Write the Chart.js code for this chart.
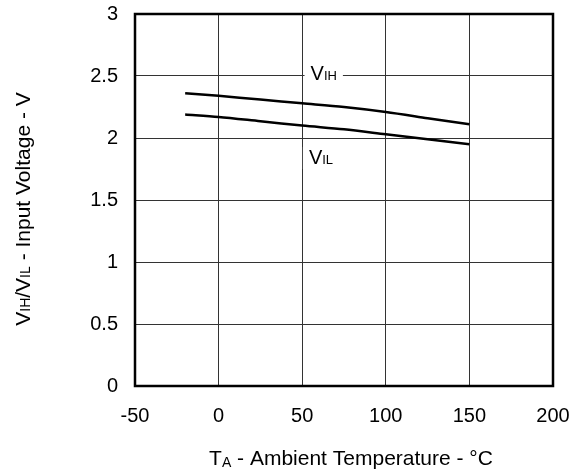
<!DOCTYPE html>
<html>
<head>
<meta charset="utf-8">
<script src="https://cdn.jsdelivr.net/npm/chart.js@4"></script>
<style>
  html, body { margin: 0; padding: 0; background: #fff; }
  #wrap { width: 582px; height: 475px; }
</style>
</head>
<body>
<div id="wrap"><canvas id="myChart" width="582" height="475"></canvas></div>
<script>
// temperatures (°C) where the curves were read
let temps = [-20, 0, 25, 50, 75, 100, 125, 150];
// input threshold voltages (V)
let vihValues = [2.36, 2.34, 2.31, 2.28, 2.25, 2.21, 2.16, 2.11];
let vilValues = [2.19, 2.17, 2.135, 2.10, 2.07, 2.03, 1.99, 1.95];

let xTicks = [-50, 0, 50, 100, 150, 200];
let yTicks = [0, 0.5, 1, 1.5, 2, 2.5, 3];

let fontFamily = "'Liberation Sans', Arial, sans-serif";

let toPoints = (xs, ys) => xs.map((x, i) => ({ x: x, y: ys[i] }));

// text pieces: [text, isSubscript]
let drawRich = (ctx, parts, x, y, size, subSize, subDrop) => {
  let cx = x;
  parts.forEach(p => {
    ctx.font = (p[1] ? subSize : size) + "px " + fontFamily;
    ctx.fillText(p[0], cx, y + (p[1] ? subDrop : 0));
    cx += ctx.measureText(p[0]).width;
  });
  return cx - x;
};

let richWidth = (ctx, parts, size, subSize) => {
  let w = 0;
  parts.forEach(p => {
    ctx.font = (p[1] ? subSize : size) + "px " + fontFamily;
    w += ctx.measureText(p[0]).width;
  });
  return w;
};

let curveLabels = [
  { parts: [["V", false], ["IH", true]], x: 55, y: 2.468 },
  { parts: [["V", false], ["IL", true]], x: 54, y: 1.79 }
];

let xTitle = [["T", false], ["A", true], [" - Ambient Temperature - °C", false]];
let yTitle = [["V", false], ["IH", true], ["/V", false], ["IL", true], [" - Input Voltage - V", false]];

let decorations = {
  id: "decorations",
  afterDraw(chart) {
    let ctx = chart.ctx;
    let a = chart.chartArea;
    let xs = chart.scales.x;
    let ys = chart.scales.y;
    ctx.save();

    // frame
    ctx.strokeStyle = "#000";
    ctx.lineWidth = 2.5;
    ctx.strokeRect(a.left, a.top, a.right - a.left, a.bottom - a.top);

    // curve labels with white background
    ctx.fillStyle = "#000";
    ctx.textBaseline = "alphabetic";
    ctx.textAlign = "left";
    curveLabels.forEach(l => {
      let px = xs.getPixelForValue(l.x);
      let py = ys.getPixelForValue(l.y);
      let w = richWidth(ctx, l.parts, 20, 13);
      ctx.fillStyle = "#fff";
      ctx.fillRect(px - 6, py - 17, w + 12, 22);
      ctx.fillStyle = "#000";
      drawRich(ctx, l.parts, px, py, 20, 13, 0);
    });

    // x title
    let wx = richWidth(ctx, xTitle, 21, 14);
    drawRich(ctx, xTitle, 351 - wx / 2, 465, 21, 14, 2);

    // y title (rotated)
    let wy = richWidth(ctx, yTitle, 21, 14);
    ctx.translate(30, 209);
    ctx.rotate(-Math.PI / 2);
    drawRich(ctx, yTitle, -wy / 2, 0, 21, 14, 0);

    ctx.restore();
  }
};

let ctx = document.getElementById("myChart").getContext("2d");
let myChart = new Chart(ctx, {
  type: "line",
  data: {
    datasets: [
      {
        label: "VIH",
        data: toPoints(temps, vihValues),
        borderColor: "#000",
        borderWidth: 2.5,
        pointRadius: 0,
        tension: 0.3,
        fill: false
      },
      {
        label: "VIL",
        data: toPoints(temps, vilValues),
        borderColor: "#000",
        borderWidth: 2.5,
        pointRadius: 0,
        tension: 0.3,
        fill: false
      }
    ]
  },
  options: {
    responsive: false,
    animation: false,
    layout: { padding: { top: 14, right: 29, left: 0, bottom: 0 } },
    plugins: {
      legend: { display: false },
      tooltip: { enabled: false }
    },
    scales: {
      x: {
        type: "linear",
        min: -50,
        max: 200,
        afterBuildTicks: s => { s.ticks = xTicks.map(v => ({ value: v })); },
        afterFit: s => { s.height = 89; s.paddingLeft = 0; s.paddingRight = 0; },
        grid: { color: "#333", lineWidth: 1, drawTicks: false },
        border: { display: false },
        ticks: {
          color: "#000",
          padding: 18,
          maxRotation: 0,
          callback: v => String(v),
          font: { family: fontFamily, size: 20 }
        }
      },
      y: {
        min: 0,
        max: 3,
        afterBuildTicks: s => { s.ticks = yTicks.map(v => ({ value: v })); },
        afterFit: s => { s.width = 135; s.paddingTop = 0; s.paddingBottom = 0; },
        grid: { color: "#333", lineWidth: 1, drawTicks: false },
        border: { display: false },
        ticks: {
          color: "#000",
          padding: 17,
          callback: v => String(v),
          font: { family: fontFamily, size: 20 }
        }
      }
    }
  },
  plugins: [decorations]
});
</script>
</body>
</html>
